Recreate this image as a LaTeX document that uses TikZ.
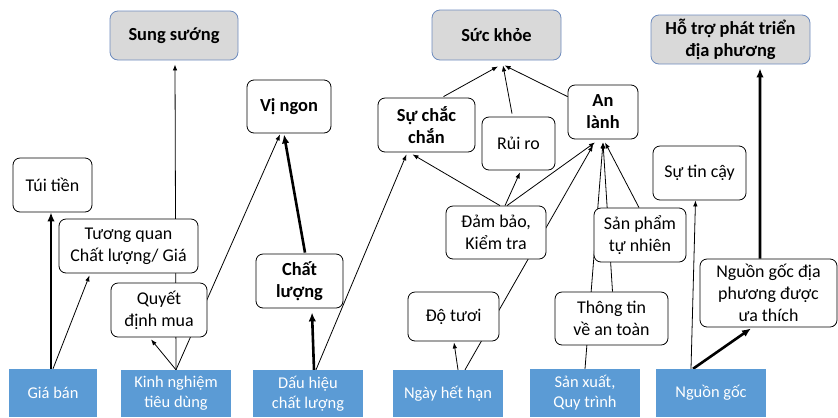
\documentclass[tikz,border=0pt]{standalone}
\usepackage{fontspec}
\setmainfont{Carlito}
\usetikzlibrary{arrows.meta}
\pgfdeclarelayer{bg}
\pgfsetlayers{bg,main}
\definecolor{bluefill}{RGB}{91,155,213}
\definecolor{grayfill}{RGB}{217,217,217}
\definecolor{grayline}{RGB}{110,140,190}
\tikzset{
  wbox/.style={draw=black, line width=0.8bp, fill=white, rounded corners=7bp, align=center, inner sep=0pt, font=\fontsize{18}{22}\selectfont},
  wboxb/.style={wbox, font=\fontsize{18.5}{22}\selectfont\bfseries},
  gbox/.style={draw=grayline, line width=0.8bp, fill=grayfill, rounded corners=8bp, align=center, inner sep=0pt, font=\fontsize{18.5}{22}\selectfont\bfseries},
  bbox/.style={fill=bluefill, text=white, align=center, inner sep=0pt, font=\fontsize{16.5}{20}\selectfont},
  conn/.style={line width=0.8bp, -{Latex[length=6bp,width=4.5bp]}},
  heavy/.style={line width=2.6bp, -{Latex[length=9bp,width=7.5bp]}},
  plainline/.style={line width=0.8bp}
}
\begin{document}
\begin{tikzpicture}[x=1bp,y=-1bp]
\useasboundingbox (0,0) rectangle (838,417);
% top goals
\node[gbox, minimum width=128bp, minimum height=49bp] (sung) at (174,35.5) {Sung sướng};
\node[gbox, minimum width=129bp, minimum height=50bp] (suc) at (496.5,35) {Sức khỏe};
\node[gbox, minimum width=159bp, minimum height=49bp] (hotro) at (730.5,39.5) {Hỗ trợ phát triển\\địa phương};
% intermediate boxes
\node[wbox, minimum width=79bp, minimum height=54bp] (tui) at (52.5,185) {Túi tiền};
\node[wbox, minimum width=139bp, minimum height=54bp] (tuong) at (128.5,246) {Tương quan\\Chất lượng/ Giá};
\node[wbox, minimum width=96bp, minimum height=54bp] (quyet) at (159,310) {Quyết\\định mua};
\node[wboxb, minimum width=84bp, minimum height=53bp] (vingon) at (289,106.5) {Vị ngon};
\node[wboxb, minimum width=87bp, minimum height=54bp] (chatluong) at (299.5,281) {Chất\\lượng};
\node[wboxb, minimum width=97bp, minimum height=54bp] (chacchan) at (426.5,125) {Sự chắc\\chắn};
\node[wbox, minimum width=73bp, minimum height=53bp] (ruiro) at (518.5,143.5) {Rủi ro};
\node[wboxb, minimum width=70bp, minimum height=54bp] (anlanh) at (603,112) {An\\lành};
\node[wbox, minimum width=100bp, minimum height=53bp] (dambao) at (496,232.5) {Đảm bảo,\\Kiểm tra};
\node[wbox, minimum width=92bp, minimum height=54bp] (sanpham) at (640,235) {Sản phẩm\\tự nhiên};
\node[wbox, minimum width=91bp, minimum height=49bp] (dotuoi) at (453.5,316.5) {Độ tươi};
\node[wbox, minimum width=113bp, minimum height=53bp] (thongtin) at (611.5,318.5) {Thông tin\\về an toàn};
\node[wbox, minimum width=93bp, minimum height=54bp] (tincay) at (699.5,173) {Sự tin cậy};
\node[wbox, minimum width=137bp, minimum height=68bp] (nguondp) at (768.5,293) {Nguồn gốc địa\\phương được\\ưa thích};
% bottom attributes
\node[bbox, minimum width=88bp, minimum height=48bp] (giaban) at (53,393) {Giá bán};
\node[bbox, minimum width=110bp, minimum height=47bp] (kinh) at (176,393.5) {Kinh nghiệm\\tiêu dùng};
\node[bbox, minimum width=110bp, minimum height=47bp] (dauhieu) at (308,393.5) {Dấu hiệu\\chất lượng};
\node[bbox, minimum width=110bp, minimum height=47bp] (ngay) at (448,393.5) {Ngày hết hạn};
\node[bbox, minimum width=110bp, minimum height=48bp] (sanxuat) at (585,393) {Sản xuất,\\Quy trình};
\node[bbox, minimum width=110bp, minimum height=48bp] (nguongoc) at (711,393) {Nguồn gốc};
% connectors
\begin{pgfonlayer}{bg}
\draw[heavy] ([xshift=-2bp]giaban.north) -- ([xshift=-1.5bp]tui.south);
\draw[conn] (giaban.north) -- ([xshift=-39bp,yshift=-2bp]tuong.south);
\draw[conn] (kinh.north) -- ([xshift=1bp,yshift=-4bp]sung.south);
\draw[conn] (kinh.north) -- ([xshift=-8bp,yshift=-2bp]quyet.south);
\draw[conn] (kinh.north) -- ([xshift=-9bp,yshift=-1bp]vingon.south);
\draw[heavy] ([xshift=6bp]dauhieu.north) -- ([xshift=12.5bp,yshift=-4bp]chatluong.south);
\draw[heavy] ([xshift=5.5bp,yshift=1bp]chatluong.north) -- ([xshift=-5bp,yshift=-1bp]vingon.south);
\draw[conn] ([xshift=8bp]dauhieu.north) -- ([xshift=-20bp,yshift=-2bp]chacchan.south);
\draw[conn] ([xshift=17bp,yshift=1bp]chacchan.north) -- ([xshift=1.5bp,yshift=-6bp]suc.south);
\draw[conn] ([xshift=-6.5bp,yshift=3bp]ruiro.north) -- ([xshift=6.5bp,yshift=-5bp]suc.south);
\draw[conn] ([yshift=-12bp]anlanh.north west) -- ([xshift=8bp,yshift=-5bp]suc.south);
\draw[conn] ([xshift=4bp]dambao.north) -- ([xshift=-14bp,yshift=-2bp]chacchan.south);
\draw[conn] ([xshift=9bp]dambao.north) -- ([xshift=1.5bp,yshift=-2bp]ruiro.south);
\draw[conn] ([xshift=11bp]dambao.north) -- ([xshift=-8bp,yshift=-3bp]anlanh.south);
\draw[conn] ([xshift=17bp]ngay.north) -- ([xshift=-10bp,yshift=-6bp]anlanh.south);
\draw[conn] ([xshift=10bp]ngay.north) -- ([xshift=0.5bp,yshift=-1bp]dotuoi.south);
\draw[conn] (sanxuat.north) -- ([yshift=-3bp]anlanh.south);
\draw[conn] ([xshift=1bp]thongtin.north) -- ([yshift=-3bp]anlanh.south);
\draw[conn] ([xshift=-1bp]sanpham.north) -- ([xshift=2bp,yshift=-3bp]anlanh.south);
\draw[conn] ([xshift=-20bp]nguongoc.north) -- ([xshift=-4bp]tincay.south);
\draw[heavy] ([xshift=-18bp]nguongoc.north) -- ([xshift=-17.5bp,yshift=-1bp]nguondp.south);
\draw[heavy] ([xshift=-8.5bp]nguondp.north) -- ([xshift=29.5bp,yshift=-4bp]hotro.south);
\end{pgfonlayer}
\end{tikzpicture}
\end{document}
